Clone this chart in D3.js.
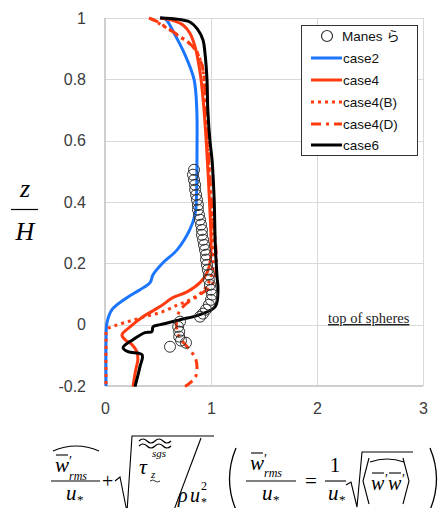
<!DOCTYPE html>
<html>
<head>
<meta charset="utf-8">
<script src="https://cdn.jsdelivr.net/npm/d3@7"></script>
<style>
  html, body { margin: 0; padding: 0; background: #fff; }
  svg { display: block; }
</style>
</head>
<body>
<svg id="chart" width="442" height="508"></svg>
<script>
// Vertical profiles: each point is [value, z/H]
const xTicks = [0, 1, 2, 3];
const xTickLabels = ["0", "1", "2", "3"];
const yTicks = [-0.2, 0, 0.2, 0.4, 0.6, 0.8, 1];
const yTickLabels = ["-0.2", "0", "0.2", "0.4", "0.6", "0.8", "1"];

const seriesNames = ["Manes ら", "case2", "case4", "case4(B)", "case4(D)", "case6"];

const case2 = [
  [0.52, 1.0], [0.57, 0.997], [0.66, 0.945], [0.755, 0.88], [0.84, 0.80],
  [0.866, 0.70], [0.868, 0.57], [0.862, 0.407], [0.85, 0.36], [0.80, 0.31],
  [0.68, 0.244], [0.547, 0.202], [0.453, 0.163], [0.425, 0.137], [0.33, 0.114],
  [0.207, 0.088], [0.066, 0.049], [0.019, 0.007], [0.01, -0.05], [0.01, -0.2]
];

const case4 = [
  [0.52, 1.0], [0.66, 0.99], [0.736, 0.977], [0.80, 0.951], [0.85, 0.906],
  [0.877, 0.863], [0.906, 0.80], [0.934, 0.70], [0.96, 0.57], [0.985, 0.407],
  [1.0, 0.277], [0.995, 0.212], [0.962, 0.169], [0.896, 0.137], [0.774, 0.107],
  [0.64, 0.088], [0.52, 0.059], [0.358, 0.026], [0.236, -0.007], [0.16, -0.033],
  [0.19, -0.049], [0.255, -0.065], [0.30, -0.088], [0.31, -0.114], [0.29, -0.147],
  [0.264, -0.202]
];

const case4B = [
  [0.443, 0.997], [0.52, 0.98], [0.613, 0.961], [0.708, 0.938], [0.783, 0.922],
  [0.85, 0.902], [0.887, 0.873], [0.915, 0.847], [0.934, 0.80], [0.953, 0.70],
  [0.97, 0.57], [1.0, 0.407], [1.02, 0.277], [1.02, 0.195], [0.99, 0.147],
  [0.915, 0.107], [0.80, 0.081], [0.69, 0.065], [0.54, 0.042], [0.377, 0.026],
  [0.217, 0.010], [0.066, -0.007], [0.019, -0.016], [0.01, -0.065], [0.01, -0.2]
];

const case4D = [
  [0.415, 1.0], [0.50, 0.987], [0.575, 0.97], [0.66, 0.951], [0.755, 0.928],
  [0.83, 0.906], [0.887, 0.873], [0.925, 0.83], [0.943, 0.765], [0.962, 0.668],
  [0.98, 0.537], [1.01, 0.375], [1.047, 0.244], [1.047, 0.179], [1.01, 0.13],
  [0.896, 0.098], [0.755, 0.065], [0.68, 0.026], [0.69, -0.033], [0.774, -0.072],
  [0.85, -0.107], [0.868, -0.14], [0.85, -0.173], [0.755, -0.202]
];

const case6 = [
  [0.52, 1.0], [0.80, 0.987], [0.877, 0.961], [0.925, 0.928], [0.943, 0.886],
  [0.962, 0.80], [0.97, 0.70], [0.99, 0.60], [1.01, 0.537], [1.03, 0.407],
  [1.04, 0.267], [1.057, 0.156], [1.066, 0.114], [1.04, 0.059], [0.896, 0.033],
  [0.708, 0.016], [0.52, 0.0], [0.453, -0.007], [0.443, -0.023], [0.377, -0.026],
  [0.264, -0.049], [0.17, -0.075], [0.217, -0.088], [0.35, -0.098], [0.33, -0.137],
  [0.283, -0.202]
];

const manes = [
  [0.84, 0.505], [0.83, 0.489], [0.84, 0.472], [0.85, 0.456], [0.85, 0.44],
  [0.86, 0.423], [0.868, 0.407], [0.877, 0.39], [0.877, 0.375], [0.887, 0.358],
  [0.896, 0.342], [0.906, 0.326], [0.915, 0.309], [0.915, 0.293], [0.925, 0.277],
  [0.934, 0.26], [0.943, 0.244], [0.953, 0.228], [0.953, 0.212], [0.962, 0.195],
  [0.97, 0.179], [0.98, 0.163], [0.98, 0.147], [0.99, 0.13], [1.0, 0.114],
  [1.01, 0.098], [1.0, 0.081], [0.98, 0.065], [0.953, 0.049], [0.925, 0.036],
  [0.896, 0.026], [0.708, 0.01], [0.69, -0.007], [0.70, -0.023], [0.70, -0.039],
  [0.717, -0.052], [0.764, -0.059], [0.613, -0.072]
];

const BLUE = "#1a75ff";
const RED = "#ff3b0f";

const svg = d3.select("#chart");
const x = d3.scaleLinear().domain([0, 3]).range([105, 423]);
const y = d3.scaleLinear().domain([-0.2, 1]).range([386, 18]);

// gridlines
const grid = svg.append("g").attr("stroke", "#d9d9d9").attr("stroke-width", 1);
grid.selectAll("line.h").data(yTicks.filter(v => v > -0.2)).join("line")
  .attr("x1", x(0)).attr("x2", x(3))
  .attr("y1", d => Math.round(y(d)) + 0.5).attr("y2", d => Math.round(y(d)) + 0.5);
grid.selectAll("line.v").data(xTicks.filter(v => v > 0)).join("line")
  .attr("y1", y(1)).attr("y2", y(-0.2))
  .attr("x1", d => Math.round(x(d)) + 0.5).attr("x2", d => Math.round(x(d)) + 0.5);

// axis lines
svg.append("line").attr("x1", x(0)).attr("x2", x(0)).attr("y1", y(1)).attr("y2", y(-0.2))
  .attr("stroke", "#bfbfbf").attr("stroke-width", 1.5);
svg.append("line").attr("x1", x(0)).attr("x2", x(3)).attr("y1", y(-0.2)).attr("y2", y(-0.2))
  .attr("stroke", "#bfbfbf").attr("stroke-width", 1.5);

// tick labels
const yAxis = d3.axisLeft(y).tickValues(yTicks).tickSize(0).tickPadding(19)
  .tickFormat((d, i) => yTickLabels[i]);
const gy = svg.append("g").attr("transform", `translate(${x(0)},0)`).call(yAxis);
gy.select(".domain").remove();
gy.selectAll("text").attr("font-family", "Liberation Sans, Arial, sans-serif")
  .attr("font-size", 16).attr("fill", "#3c3c3c");

const xAxis = d3.axisBottom(x).tickValues(xTicks).tickSize(0).tickPadding(17)
  .tickFormat((d, i) => xTickLabels[i]);
const gx = svg.append("g").attr("transform", `translate(0,${y(-0.2)})`).call(xAxis);
gx.select(".domain").remove();
gx.selectAll("text").attr("font-family", "Liberation Sans, Arial, sans-serif")
  .attr("font-size", 16).attr("fill", "#3c3c3c");

// profile curves
const line = d3.line().x(d => x(d[0])).y(d => y(d[1])).curve(d3.curveCatmullRom.alpha(0.5));
const curves = [
  { data: case2, color: BLUE, dash: null },
  { data: case4, color: RED, dash: null },
  { data: case4B, color: RED, dash: "3,4" },
  { data: case4D, color: RED, dash: "10,5,3,5" },
  { data: case6, color: "#000", dash: null }
];
svg.append("g").selectAll("path").data(curves).join("path")
  .attr("d", d => line(d.data))
  .attr("fill", "none")
  .attr("stroke", d => d.color)
  .attr("stroke-width", 3)
  .attr("stroke-linejoin", "round")
  .attr("stroke-dasharray", d => d.dash);

// measured points
svg.append("g").selectAll("circle").data(manes).join("circle")
  .attr("cx", d => x(d[0])).attr("cy", d => y(d[1])).attr("r", 5.5)
  .attr("fill", "none").attr("stroke", "#333").attr("stroke-width", 1);

// annotation
svg.append("text").attr("x", 328).attr("y", 323)
  .attr("font-family", "Liberation Serif, Times New Roman, serif").attr("font-size", 14.5)
  .attr("fill", "#222").attr("text-decoration", "underline").text("top of spheres");

// legend
const lg = svg.append("g");
lg.append("rect").attr("x", 301.5).attr("y", 25.5).attr("width", 116).attr("height", 130)
  .attr("fill", "#fff").attr("stroke", "#333").attr("stroke-width", 1);
const rowY = [36, 58, 80, 102, 124, 145];
lg.append("circle").attr("cx", 327).attr("cy", rowY[0]).attr("r", 5.5)
  .attr("fill", "none").attr("stroke", "#333").attr("stroke-width", 1.2);
curves.forEach((c, i) => {
  lg.append("line").attr("x1", 311).attr("x2", 342).attr("y1", rowY[i + 1]).attr("y2", rowY[i + 1])
    .attr("stroke", c.color).attr("stroke-width", 3).attr("stroke-dasharray", c.dash);
});
lg.selectAll("text").data(seriesNames).join("text")
  .attr("x", (d, i) => i === 0 ? 342 : 343).attr("y", (d, i) => rowY[i] + 5)
  .attr("font-family", "Liberation Sans, Arial, Noto Sans CJK JP, sans-serif")
  .attr("font-size", 13.5).attr("fill", "#111").text(d => d);

// y-axis title: z / H
const serif = "Liberation Serif, Times New Roman, serif";
svg.append("text").attr("x", 25).attr("y", 197).attr("text-anchor", "middle")
  .attr("font-family", serif).attr("font-style", "italic").attr("font-size", 26).text("z");
svg.append("line").attr("x1", 11).attr("x2", 38).attr("y1", 209.5).attr("y2", 209.5)
  .attr("stroke", "#000").attr("stroke-width", 1.2);
svg.append("text").attr("x", 25).attr("y", 240).attr("text-anchor", "middle")
  .attr("font-family", serif).attr("font-style", "italic").attr("font-size", 26).text("H");

// x-axis title (formula)
const f = svg.append("g").attr("fill", "#000");
const stroke = { stroke: "#000", "stroke-width": 1.1, fill: "none" };
function t(xp, yp, s, size, italic, anchor) {
  return f.append("text").attr("x", xp).attr("y", yp).attr("font-family", serif)
    .attr("font-size", size).attr("font-style", italic ? "italic" : "normal")
    .attr("text-anchor", anchor || "start").text(s);
}
function p(d, w) {
  const el = f.append("path").attr("d", d);
  Object.entries(stroke).forEach(([k, v]) => el.attr(k, v));
  if (w) el.attr("stroke-width", w);
  return el;
}
function wbar(xp, yb, size) {
  // overbarred w with prime
  t(xp, yb, "w", size, true);
  p(`M${xp + 1},${yb - 17} L${xp + 13},${yb - 17}`);
  t(xp + 14, yb - 6, "′", 14, false);
}
// first fraction
p("M53,451 Q76,441 99,451");
wbar(55, 472, 21);
t(69, 480, "rms", 12, true);
p("M51,481 L100,481");
t(66, 500, "u", 21, true);
t(77, 504, "*", 13, false);
t(102, 488, "+", 20, false);
// square root of sgs term
p("M115,481 L120,477 L127,512 L132,436 L214,436");
p("M139,446 q4,-4 8,0 t8,0 t8,0 t8,0");
p("M139,441 q4,-4 8,0 t8,0 t8,0 t8,0");
t(139, 474, "τ", 22, true);
t(152, 457, "sgs", 11, true);
t(151, 478, "z", 11, true);
p("M150,481 q3,-2 5,0 t5,0", 0.8);
p("M201,438 L174,510");
t(178, 502, "ρ", 20, true);
t(190, 502, "u", 20, true);
t(201, 506, "*", 12, false);
t(201, 490, "2", 12, false);
// bracket
p("M236,448 Q223,479 236,510", 1.3);
p("M430,448 Q443,479 430,510", 1.3);
// second fraction
wbar(250, 470, 21);
t(264, 477, "rms", 12, true);
p("M246,481 L296,481");
t(262, 500, "u", 21, true);
t(273, 504, "*", 13, false);
t(311, 488, "=", 21, false, "middle");
t(335, 472, "1", 21, false, "middle");
p("M325,481 L346,481");
t(328, 500, "u", 21, true);
t(339, 504, "*", 13, false);
p("M346,485 L351,482 L357,507 L362,452 L413,452");
p("M369,458 L363,481 L369,504");
p("M403,458 L409,481 L403,504");
p("M370,462 q17,-6 34,0");
wbar(371, 490, 20);
wbar(388, 490, 20);
</script>
</body>
</html>
